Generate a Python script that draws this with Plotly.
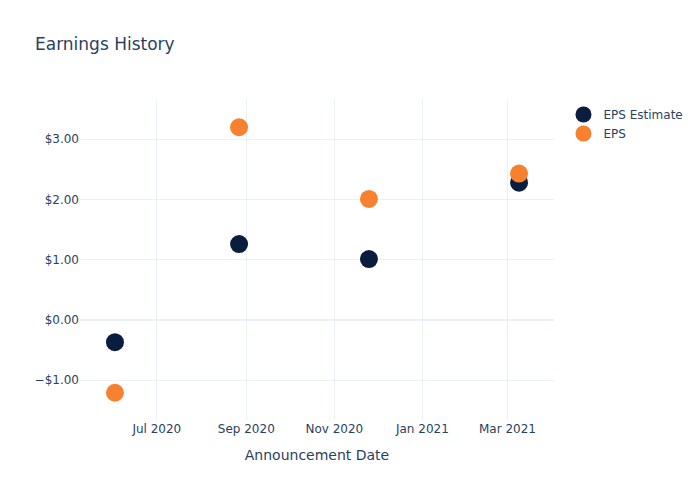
import plotly.graph_objects as go

dates = ["2020-06-02", "2020-08-27", "2020-11-25", "2021-03-09"]
eps_estimate = [-0.37, 1.26, 1.01, 2.28]
eps_actual = [-1.21, 3.20, 2.01, 2.43]

fig = go.Figure()
fig.add_trace(go.Scatter(x=dates, y=eps_estimate, mode="markers", name="EPS Estimate",
                         marker=dict(color="#0a1d3f", size=18)))
fig.add_trace(go.Scatter(x=dates, y=eps_actual, mode="markers", name="EPS",
                         marker=dict(color="#f7812f", size=18)))
fig.update_layout(
    template="plotly_white",
    width=700, height=500,
    title=dict(text="Earnings History"),
    font=dict(family="DejaVu Sans"),
    xaxis=dict(title="Announcement Date"),
    yaxis=dict(tickformat="$.2f"),
)
fig.write_html("out.html")
